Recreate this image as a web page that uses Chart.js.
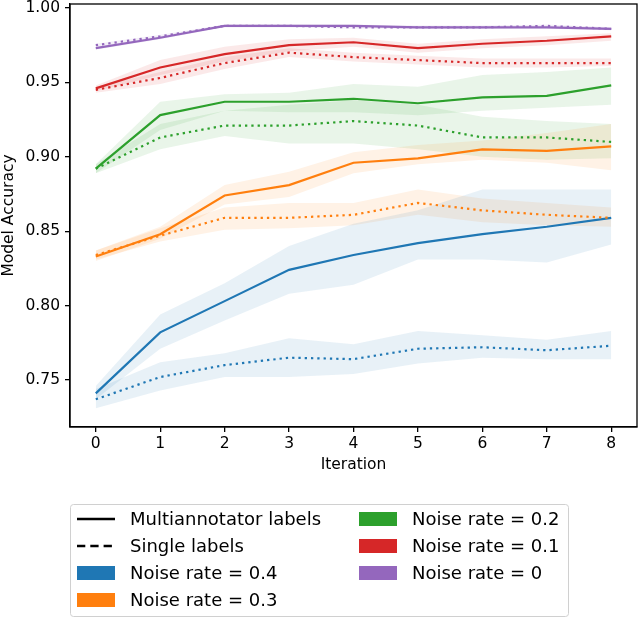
<!DOCTYPE html>
<html>
<head>
<meta charset="utf-8">
<script src="https://cdn.jsdelivr.net/npm/chart.js@4.4.1/dist/chart.umd.min.js"></script>
<style>
  html, body { margin: 0; padding: 0; background: #fff; }
  #wrap { width: 640px; height: 619px; }
</style>
</head>
<body>
<div id="wrap"><canvas id="accChart"></canvas></div>
<script>
// x positions and tick labels
const iterations = [0, 1, 2, 3, 4, 5, 6, 7, 8];
const yTicks = [0.75, 0.80, 0.85, 0.90, 0.95, 1.00];

// noise rate 0.4
const multi04   = [0.741, 0.782, 0.803, 0.824, 0.834, 0.842, 0.848, 0.853, 0.859];
const multi04Lo = [0.737, 0.771, 0.790, 0.808, 0.814, 0.831, 0.831, 0.829, 0.841];
const multi04Hi = [0.746, 0.794, 0.815, 0.840, 0.855, 0.864, 0.878, 0.878, 0.878];
const single04   = [0.737, 0.752, 0.760, 0.765, 0.764, 0.771, 0.772, 0.770, 0.773];
const single04Lo = [0.731, 0.743, 0.752, 0.752, 0.754, 0.761, 0.765, 0.764, 0.764];
const single04Hi = [0.744, 0.762, 0.768, 0.778, 0.774, 0.783, 0.780, 0.777, 0.783];

// noise rate 0.3
const multi03   = [0.833, 0.848, 0.874, 0.881, 0.896, 0.899, 0.905, 0.904, 0.907];
const multi03Lo = [0.830, 0.845, 0.868, 0.873, 0.889, 0.895, 0.898, 0.896, 0.891];
const multi03Hi = [0.837, 0.853, 0.881, 0.890, 0.903, 0.908, 0.911, 0.916, 0.922];
const single03   = [0.834, 0.847, 0.859, 0.859, 0.861, 0.869, 0.864, 0.861, 0.859];
const single03Lo = [0.831, 0.843, 0.851, 0.852, 0.854, 0.861, 0.856, 0.854, 0.853];
const single03Hi = [0.837, 0.852, 0.866, 0.869, 0.869, 0.878, 0.872, 0.869, 0.866];

// noise rate 0.2
const multi02   = [0.892, 0.928, 0.937, 0.937, 0.939, 0.936, 0.940, 0.941, 0.948];
const multi02Lo = [0.889, 0.918, 0.931, 0.930, 0.930, 0.928, 0.931, 0.933, 0.935];
const multi02Hi = [0.895, 0.937, 0.942, 0.943, 0.949, 0.947, 0.955, 0.957, 0.960];
const single02   = [0.892, 0.913, 0.921, 0.921, 0.924, 0.921, 0.913, 0.913, 0.910];
const single02Lo = [0.889, 0.905, 0.914, 0.909, 0.909, 0.905, 0.900, 0.898, 0.899];
const single02Hi = [0.895, 0.922, 0.931, 0.935, 0.938, 0.935, 0.927, 0.924, 0.922];

// noise rate 0.1
const multi01   = [0.946, 0.960, 0.969, 0.975, 0.977, 0.973, 0.976, 0.978, 0.981];
const multi01Lo = [0.944, 0.955, 0.964, 0.971, 0.974, 0.970, 0.973, 0.975, 0.978];
const multi01Hi = [0.948, 0.965, 0.974, 0.979, 0.980, 0.976, 0.979, 0.981, 0.983];
const single01   = [0.945, 0.953, 0.963, 0.970, 0.967, 0.965, 0.963, 0.963, 0.963];
const single01Lo = [0.943, 0.949, 0.959, 0.967, 0.964, 0.962, 0.960, 0.960, 0.961];
const single01Hi = [0.947, 0.957, 0.967, 0.973, 0.970, 0.968, 0.966, 0.966, 0.966];

// noise rate 0
const multi00   = [0.973, 0.980, 0.988, 0.988, 0.988, 0.987, 0.987, 0.987, 0.986];
const multi00Lo = [0.972, 0.979, 0.987, 0.987, 0.987, 0.986, 0.986, 0.986, 0.985];
const multi00Hi = [0.974, 0.981, 0.989, 0.989, 0.989, 0.988, 0.988, 0.988, 0.987];
const single00   = [0.975, 0.981, 0.988, 0.988, 0.987, 0.987, 0.987, 0.988, 0.986];
const single00Lo = [0.974, 0.980, 0.987, 0.987, 0.986, 0.986, 0.986, 0.987, 0.985];
const single00Hi = [0.976, 0.982, 0.989, 0.989, 0.988, 0.988, 0.988, 0.989, 0.987];

const noiseRates = ['0.4', '0.3', '0.2', '0.1', '0'];
const noiseColors = ['31,119,180', '255,127,14', '44,160,44', '214,39,40', '148,103,189'];
const styleLabels = ['Multiannotator labels', 'Single labels'];

const groups = [
    [multi04, multi04Lo, multi04Hi, single04, single04Lo, single04Hi],
    [multi03, multi03Lo, multi03Hi, single03, single03Lo, single03Hi],
    [multi02, multi02Lo, multi02Hi, single02, single02Lo, single02Hi],
    [multi01, multi01Lo, multi01Hi, single01, single01Lo, single01Hi],
    [multi00, multi00Lo, multi00Hi, single00, single00Lo, single00Hi]
];

const FONT = 'DejaVu Sans';
Chart.defaults.font.family = FONT;
Chart.defaults.color = '#000';

function pts(arr) {
    return iterations.map((x, i) => ({ x: x, y: arr[i] }));
}

// bands first (lower + upper filled to lower), lines after
const bandSets = [];
const lineSets = [];
groups.forEach((g, k) => {
    const rgb = noiseColors[k];
    [[g[1], g[2]], [g[4], g[5]]].forEach(pair => {
        bandSets.push({ data: pts(pair[0]), borderWidth: 0, pointRadius: 0, fill: false });
        bandSets.push({ data: pts(pair[1]), borderWidth: 0, pointRadius: 0,
            fill: '-1', backgroundColor: 'rgba(' + rgb + ',0.1)' });
    });
    lineSets.push({ data: pts(g[0]), borderColor: 'rgb(' + rgb + ')', borderWidth: 2.2,
        pointRadius: 0, fill: false, tension: 0 });
    lineSets.push({ data: pts(g[3]), borderColor: 'rgb(' + rgb + ')', borderWidth: 2.2,
        borderDash: [2.3, 4.0], borderCapStyle: 'butt', pointRadius: 0, fill: false, tension: 0 });
});
// later in array = drawn below in Chart.js, so reverse the lines to get purple on top
const datasets = lineSets.slice().reverse().concat(bandSets);

const framePlugin = {
    id: 'frame',
    afterDatasetsDraw(chart) {
        const a = chart.chartArea;
        const ctx = chart.ctx;
        ctx.save();
        ctx.strokeStyle = '#000';
        ctx.lineWidth = 1.3;
        ctx.strokeRect(a.left, a.top, a.right - a.left, a.bottom - a.top);
        ctx.restore();
    }
};

const legendPlugin = {
    id: 'columnLegend',
    afterDraw(chart) {
        const ctx = chart.ctx;
        ctx.save();
        const bx = 70.5, by = 504.5, bw = 498, bh = 112, r = 3;
        ctx.beginPath();
        ctx.moveTo(bx + r, by);
        ctx.arcTo(bx + bw, by, bx + bw, by + bh, r);
        ctx.arcTo(bx + bw, by + bh, bx, by + bh, r);
        ctx.arcTo(bx, by + bh, bx, by, r);
        ctx.arcTo(bx, by, bx + bw, by, r);
        ctx.closePath();
        ctx.fillStyle = 'rgba(255,255,255,0.8)';
        ctx.fill();
        ctx.strokeStyle = '#d0d0d0';
        ctx.lineWidth = 1;
        ctx.stroke();

        const entries = [];
        entries.push({ kind: 'solid', text: styleLabels[0] });
        entries.push({ kind: 'dash', text: styleLabels[1] });
        noiseRates.forEach((n, k) => entries.push({ kind: 'patch', rgb: noiseColors[k], text: 'Noise rate = ' + n }));

        ctx.font = '18px "' + FONT + '"';
        ctx.textBaseline = 'middle';
        ctx.textAlign = 'left';
        entries.forEach((e, i) => {
            const col = i < 4 ? 0 : 1;
            const row = i < 4 ? i : i - 4;
            const hx = col === 0 ? 77 : 359;
            const tx = col === 0 ? 130 : 412;
            const y = 519 + row * 27;
            if (e.kind === 'patch') {
                ctx.fillStyle = 'rgb(' + e.rgb + ')';
                ctx.fillRect(hx, y - 7, 38, 14);
            } else {
                ctx.strokeStyle = '#000';
                ctx.lineWidth = 2.3;
                ctx.setLineDash(e.kind === 'dash' ? [8.3, 5] : []);
                ctx.beginPath();
                ctx.moveTo(hx, y);
                ctx.lineTo(hx + 38, y);
                ctx.stroke();
                ctx.setLineDash([]);
            }
            ctx.fillStyle = '#000';
            ctx.fillText(e.text, tx, y + 1);
        });
        ctx.restore();
    }
};

const tickFont = { family: FONT, size: 15.5 };

new Chart(document.getElementById('accChart'), {
    type: 'line',
    data: { datasets: datasets },
    options: {
        responsive: true,
        maintainAspectRatio: false,
        animation: false,
        layout: { padding: { left: 0, right: 3, top: 4, bottom: 145 } },
        plugins: {
            legend: { display: false },
            tooltip: { enabled: false },
            filler: { drawTime: 'beforeDatasetsDraw' }
        },
        scales: {
            x: {
                type: 'linear',
                min: -0.4,
                max: 8.4,
                afterBuildTicks: s => { s.ticks = iterations.map(v => ({ value: v })); },
                afterFit: s => { s.height = 47; s.paddingLeft = 0; s.paddingRight = 0; },
                ticks: { font: tickFont, color: '#000', padding: 3, maxRotation: 0, callback: v => String(v) },
                grid: { drawOnChartArea: false, drawTicks: true, tickLength: 5, color: '#000', lineWidth: 1.3 },
                border: { display: true, color: '#000', width: 1.3 },
                title: { display: true, text: 'Iteration', font: tickFont, color: '#000', padding: 0 }
            },
            y: {
                type: 'linear',
                min: 0.7184,
                max: 1.0027,
                afterBuildTicks: s => { s.ticks = yTicks.map(v => ({ value: v })); },
                afterFit: s => { s.width = 70; s.paddingTop = 0; s.paddingBottom = 0; },
                ticks: { font: tickFont, color: '#000', padding: 5, callback: v => v.toFixed(2) },
                grid: { drawOnChartArea: false, drawTicks: true, tickLength: 5, color: '#000', lineWidth: 1.3 },
                border: { display: true, color: '#000', width: 1.3 },
                title: { display: true, text: 'Model Accuracy', font: tickFont, color: '#000', padding: 0 }
            }
        }
    },
    plugins: [framePlugin, legendPlugin]
});
</script>
</body>
</html>
